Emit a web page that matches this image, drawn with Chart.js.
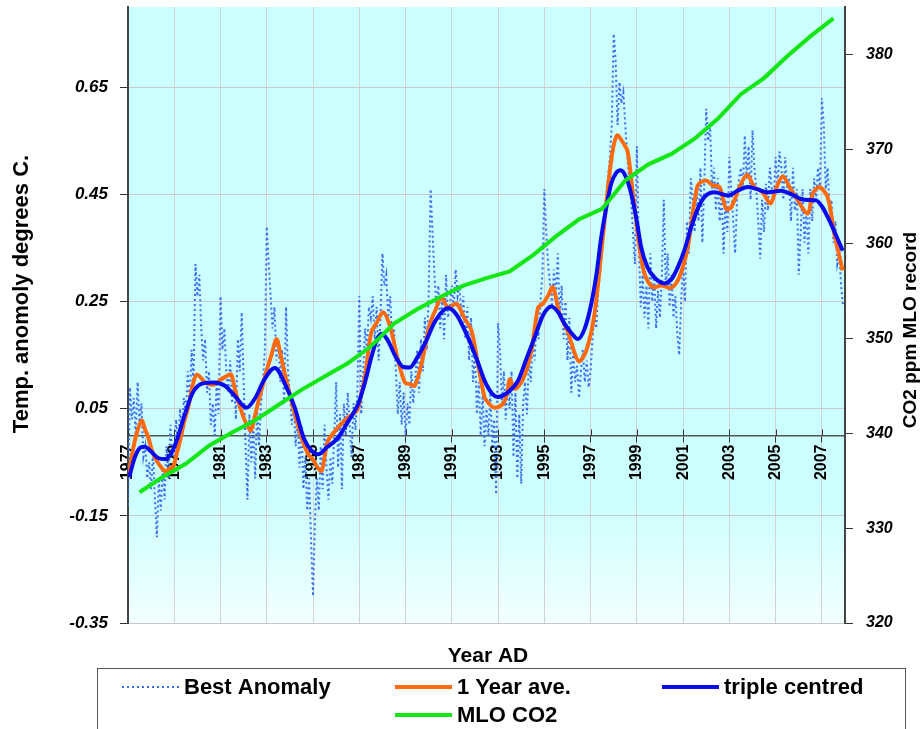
<!DOCTYPE html>
<html>
<head>
<meta charset="utf-8">
<script src="https://cdn.jsdelivr.net/npm/chart.js@4.4.1/dist/chart.umd.min.js"></script>
<style>
  html, body { margin: 0; padding: 0; background: #ffffff; }
  #wrap { width: 922px; height: 729px; position: relative; }
  canvas { display: block; }
</style>
</head>
<body>
<div id="wrap"><canvas id="chart" width="922" height="729"></canvas></div>
<script>
// Monthly temperature anomaly, January 1977 onward (one row per year)
const anomalyStartYear = 1977;
const bestAnomaly = [
  -0.13, 0.09, 0.03, 0.07, 0.00, 0.10, 0.02, 0.06, -0.04, -0.02, -0.08, -0.05,   // 1977
  -0.10, -0.03, -0.12, -0.19, -0.08, -0.14, -0.06, -0.12, -0.02, -0.08, 0.02, -0.04, // 1978
  -0.04, 0.03, -0.03, 0.05, 0.00, 0.07, 0.04, 0.12, 0.06, 0.16, 0.10, 0.32,       // 1979
  0.26, 0.30, 0.20, 0.14, 0.18, 0.08, 0.12, 0.02, 0.06, 0.00, 0.10, 0.04,         // 1980
  0.26, 0.16, 0.20, 0.12, 0.08, 0.14, 0.06, 0.10, 0.03, 0.18, 0.12, 0.23,         // 1981
  0.10, -0.02, -0.12, 0.04, -0.05, 0.02, -0.08, 0.05, -0.02, 0.06, 0.10, 0.16,    // 1982
  0.39, 0.32, 0.26, 0.20, 0.24, 0.14, 0.18, 0.10, 0.16, 0.06, 0.24, 0.12,         // 1983
  0.08, 0.02, 0.06, -0.02, 0.04, -0.06, 0.02, -0.10, -0.04, -0.14, -0.08, -0.20,  // 1984
  -0.30, -0.16, -0.08, -0.14, -0.02, -0.10, 0.02, -0.06, -0.12, -0.04, -0.09, 0.00, // 1985
  0.10, -0.06, 0.04, -0.10, 0.06, 0.00, 0.08, 0.02, -0.04, 0.06, 0.01, 0.08,      // 1986
  0.26, 0.04, 0.12, 0.20, 0.16, 0.24, 0.22, 0.26, 0.18, 0.24, 0.14, 0.22,         // 1987
  0.34, 0.28, 0.30, 0.22, 0.26, 0.18, 0.20, 0.12, 0.04, 0.10, 0.02, 0.08,         // 1988
  0.00, 0.06, 0.02, 0.12, 0.06, 0.10, 0.16, 0.08, 0.18, 0.12, 0.22, 0.16,         // 1989
  0.26, 0.46, 0.38, 0.30, 0.24, 0.28, 0.20, 0.26, 0.18, 0.30, 0.22, 0.24,         // 1990
  0.28, 0.24, 0.31, 0.26, 0.28, 0.22, 0.26, 0.18, 0.24, 0.14, 0.22, 0.10,         // 1991
  0.16, 0.04, 0.10, 0.00, 0.08, -0.02, 0.05, 0.00, 0.08, -0.02, 0.03, -0.11,      // 1992
  0.21, 0.16, 0.06, 0.12, 0.03, 0.10, 0.05, 0.12, -0.04, 0.08, -0.08, 0.04,       // 1993
  -0.09, 0.06, 0.10, 0.04, 0.14, 0.10, 0.18, 0.14, 0.22, 0.18, 0.25, 0.30,        // 1994
  0.46, 0.38, 0.32, 0.28, 0.24, 0.31, 0.26, 0.34, 0.22, 0.28, 0.18, 0.25,         // 1995
  0.14, 0.22, 0.08, 0.16, 0.10, 0.13, 0.07, 0.12, 0.16, 0.10, 0.14, 0.09,         // 1996
  0.12, 0.18, 0.22, 0.20, 0.28, 0.30, 0.36, 0.40, 0.44, 0.48, 0.52, 0.58,         // 1997
  0.75, 0.70, 0.58, 0.66, 0.62, 0.64, 0.58, 0.52, 0.48, 0.44, 0.38, 0.32,         // 1998
  0.54, 0.36, 0.24, 0.30, 0.22, 0.28, 0.20, 0.34, 0.25, 0.30, 0.20, 0.27,         // 1999
  0.22, 0.30, 0.44, 0.28, 0.34, 0.24, 0.30, 0.22, 0.26, 0.19, 0.15, 0.25,         // 2000
  0.32, 0.25, 0.40, 0.34, 0.48, 0.44, 0.38, 0.46, 0.40, 0.50, 0.36, 0.47,         // 2001
  0.61, 0.55, 0.58, 0.46, 0.50, 0.42, 0.48, 0.40, 0.46, 0.34, 0.44, 0.38,         // 2002
  0.52, 0.46, 0.40, 0.34, 0.44, 0.48, 0.50, 0.46, 0.56, 0.48, 0.54, 0.44,         // 2003
  0.57, 0.50, 0.46, 0.40, 0.33, 0.44, 0.38, 0.47, 0.42, 0.50, 0.46, 0.44,         // 2004
  0.52, 0.46, 0.53, 0.50, 0.44, 0.52, 0.46, 0.48, 0.40, 0.50, 0.42, 0.46,         // 2005
  0.30, 0.38, 0.46, 0.36, 0.42, 0.34, 0.46, 0.40, 0.48, 0.44, 0.50, 0.46,         // 2006
  0.63, 0.58, 0.46, 0.50, 0.42, 0.44, 0.36, 0.40, 0.32, 0.34, 0.28, 0.24          // 2007
];

// 1 year average (decimal year, anomaly)
const yearAveYears = [
  1977.05, 1977.2, 1977.37, 1977.59, 1977.75, 1977.88, 1978.05, 1978.24, 1978.45, 1978.6,
  1978.8, 1978.96, 1979.1, 1979.25, 1979.45, 1979.6, 1979.8, 1979.97, 1980.15, 1980.33,
  1980.55, 1980.76, 1981.0, 1981.19, 1981.45, 1981.6, 1981.76, 1982.05, 1982.31, 1982.45,
  1982.63, 1982.8, 1982.99, 1983.2, 1983.42, 1983.6, 1983.78, 1984.14, 1984.5, 1984.79,
  1985.0, 1985.2, 1985.37, 1985.5, 1985.65, 1986.08, 1986.52, 1986.88, 1987.05, 1987.24,
  1987.52, 1987.75, 1988.03, 1988.32, 1988.68, 1988.97, 1989.2, 1989.4, 1989.69, 1990.05,
  1990.3, 1990.55, 1990.84, 1991.2, 1991.56, 1991.85, 1992.13, 1992.42, 1992.6, 1992.85,
  1993.21, 1993.4, 1993.5, 1993.72, 1994.08, 1994.44, 1994.73, 1994.94, 1995.15, 1995.37,
  1995.66, 1996.02, 1996.3, 1996.5, 1996.81, 1997.17, 1997.53, 1997.89, 1998.14, 1998.47,
  1998.61, 1998.83, 1999.12, 1999.33, 1999.69, 2000.05, 2000.49, 2000.84, 2001.2, 2001.63,
  2001.99, 2002.28, 2002.57, 2002.86, 2003.08, 2003.44, 2003.77, 2004.08, 2004.44, 2004.78,
  2005.02, 2005.31, 2005.6, 2005.96, 2006.39, 2006.6, 2006.89, 2007.25, 2007.54, 2007.9
];
const yearAveValues = [
  -0.07, -0.03, 0.003, 0.028, 0.01, -0.004, -0.03, -0.047, -0.06, -0.067,
  -0.062, -0.057, -0.035, -0.01, 0.03, 0.052, 0.095, 0.114, 0.108, 0.099,
  0.095, 0.096, 0.104, 0.109, 0.114, 0.09, 0.065, 0.028, 0.009, 0.03,
  0.062, 0.09, 0.121, 0.15, 0.18, 0.15, 0.115, 0.052, -0.004, -0.035,
  -0.045, -0.06, -0.066, -0.04, -0.01, 0.015, 0.034, 0.046, 0.07, 0.109,
  0.193, 0.21, 0.23, 0.205, 0.14, 0.099, 0.096, 0.093, 0.134, 0.208,
  0.235, 0.258, 0.239, 0.246, 0.218, 0.196, 0.134, 0.071, 0.06, 0.052,
  0.059, 0.08, 0.105, 0.087, 0.105, 0.158, 0.239, 0.246, 0.26, 0.277,
  0.227, 0.193, 0.155, 0.138, 0.158, 0.227, 0.37, 0.513, 0.56, 0.542,
  0.529, 0.451, 0.351, 0.302, 0.277, 0.28, 0.276, 0.296, 0.351, 0.467,
  0.476, 0.467, 0.464, 0.423, 0.426, 0.464, 0.487, 0.464, 0.454, 0.433,
  0.461, 0.484, 0.464, 0.439, 0.414, 0.451, 0.464, 0.445, 0.376, 0.308
];

// Triple centred smoothing (decimal year, anomaly)
const tripleYears = [
  1977.05, 1977.3, 1977.55, 1977.73, 1978.0, 1978.3, 1978.6, 1978.85, 1979.1, 1979.46,
  1979.8, 1980.2, 1980.69, 1981.19, 1981.6, 1982.13, 1982.5, 1982.9, 1983.35, 1983.8,
  1984.21, 1984.6, 1984.93, 1985.22, 1985.6, 1986.08, 1986.5, 1986.95, 1987.25, 1987.52,
  1987.75, 1987.96, 1988.2, 1988.6, 1988.9, 1989.18, 1989.5, 1989.83, 1990.3, 1990.84,
  1991.2, 1991.7, 1992.1, 1992.42, 1992.75, 1993.0, 1993.4, 1993.86, 1994.2, 1994.58,
  1994.95, 1995.3, 1995.6, 1995.88, 1996.2, 1996.45, 1996.75, 1997.03, 1997.25, 1997.46,
  1997.7, 1997.89, 1998.1, 1998.3, 1998.5, 1998.76, 1999.0, 1999.19, 1999.45, 1999.76,
  2000.2, 2000.5, 2000.77, 2001.05, 2001.35, 2001.65, 2001.92, 2002.36, 2002.93, 2003.4,
  2003.8, 2004.2, 2004.66, 2005.24, 2005.7, 2006.24, 2006.75, 2007.0, 2007.25, 2007.6,
  2007.9
];
const tripleValues = [
  -0.078, -0.04, -0.022, -0.021, -0.03, -0.042, -0.044, -0.035, -0.01, 0.04,
  0.08, 0.097, 0.099, 0.093, 0.075, 0.052, 0.07, 0.105, 0.126, 0.095,
  0.052, -0.005, -0.028, -0.035, -0.022, -0.004, 0.025, 0.059, 0.1, 0.146,
  0.178, 0.19, 0.18, 0.145, 0.128, 0.127, 0.145, 0.171, 0.215, 0.238,
  0.226, 0.183, 0.14, 0.102, 0.078, 0.072, 0.08, 0.102, 0.14, 0.183,
  0.225, 0.241, 0.23, 0.208, 0.19, 0.18, 0.2, 0.246, 0.3, 0.37,
  0.43, 0.47, 0.49, 0.495, 0.485, 0.451, 0.4, 0.351, 0.315, 0.295,
  0.284, 0.292, 0.314, 0.345, 0.389, 0.425, 0.445, 0.454, 0.448, 0.458,
  0.464, 0.46, 0.454, 0.457, 0.45, 0.44, 0.439, 0.428, 0.408, 0.375,
  0.345
];

// Mauna Loa annual mean CO2 (ppm), plotted mid-year
const co2Years = [
  1977.5, 1978.5, 1979.5, 1980.5, 1981.5, 1982.5, 1983.5, 1984.5, 1985.5, 1986.5,
  1987.5, 1988.5, 1989.5, 1990.5, 1991.5, 1992.5, 1993.5, 1994.5, 1995.5, 1996.5,
  1997.5, 1998.5, 1999.5, 2000.5, 2001.5, 2002.5, 2003.5, 2004.5, 2005.5, 2006.5,
  2007.5
];
const co2Ppm = [
  333.8, 335.4, 336.8, 338.7, 340.1, 341.4, 343.0, 344.6, 346.0, 347.4,
  349.2, 351.6, 353.1, 354.4, 355.6, 356.4, 357.1, 358.8, 360.8, 362.6,
  363.7, 366.7, 368.4, 369.5, 371.1, 373.2, 375.8, 377.5, 379.8, 381.9,
  383.8
];

// Tick labels
const yearTicks = [1977, 1979, 1981, 1983, 1985, 1987, 1989, 1991, 1993, 1995, 1997, 1999, 2001, 2003, 2005, 2007];
const tempTicks = [-0.35, -0.15, 0.05, 0.25, 0.45, 0.65];
const co2Ticks = [320, 330, 340, 350, 360, 370, 380];

const FONT = "'Liberation Sans', Arial, Helvetica, sans-serif";

const pairs = (xs, ys) => xs.map((x, i) => ({ x: x, y: ys[i] }));
const anomalyPoints = bestAnomaly.map((v, i) => ({ x: anomalyStartYear + i / 12, y: v }));

// keep the value axes from reserving room for their end labels
const noEdgePadding = s => { s.paddingTop = 0; s.paddingBottom = 0; };

function drawUpright(ctx, text, x, y, size) {
  ctx.save();
  ctx.fillStyle = '#000000';
  ctx.font = 'bold ' + size + 'px ' + FONT;
  ctx.textAlign = 'center';
  ctx.textBaseline = 'middle';
  ctx.translate(x, y);
  ctx.rotate(-Math.PI / 2);
  ctx.fillText(text, 0, 0);
  ctx.restore();
}

// Plot background, crossing x ticks, axis titles and legend box
const chartDecor = {
  id: 'chartDecor',
  beforeDraw(chart) {
    const { ctx, chartArea: a } = chart;
    const g = ctx.createLinearGradient(0, a.top, 0, a.bottom);
    g.addColorStop(0, '#ccffff');
    g.addColorStop(0.8, '#ccffff');
    g.addColorStop(1, '#f2ffff');
    ctx.save();
    ctx.fillStyle = g;
    ctx.fillRect(a.left, a.top, a.right - a.left, a.bottom - a.top);
    ctx.restore();
  },
  afterDraw(chart) {
    const { ctx } = chart;
    const xs = chart.scales.x;
    const y0 = chart.scales.y.getPixelForValue(0);
    ctx.save();
    // upper half of the crossing tick marks on the year axis
    ctx.strokeStyle = '#333333';
    ctx.lineWidth = 1;
    xs.ticks.forEach(t => {
      const px = Math.round(xs.getPixelForValue(t.value)) + 0.5;
      ctx.beginPath();
      ctx.moveTo(px, y0 - 6);
      ctx.lineTo(px, y0);
      ctx.stroke();
    });
    ctx.restore();

    // axis titles
    drawUpright(ctx, 'Temp. anomoly degrees C.', 22, 294, 22);
    drawUpright(ctx, 'CO2 ppm MLO record', 911, 330, 19);

    ctx.save();
    ctx.fillStyle = '#000000';
    ctx.textAlign = 'center';
    ctx.textBaseline = 'middle';
    ctx.font = 'bold 21px ' + FONT;
    ctx.fillText('Year AD', 488, 656);

    // legend
    ctx.strokeStyle = '#555555';
    ctx.lineWidth = 1;
    ctx.strokeRect(97.5, 668.5, 808, 80);
    const slots = [
      { ds: 0, x: 122, y: 687 },
      { ds: 1, x: 395, y: 687 },
      { ds: 2, x: 662, y: 687 },
      { ds: 3, x: 395, y: 715 }
    ];
    ctx.font = 'bold 22px ' + FONT;
    ctx.textAlign = 'left';
    slots.forEach(s => {
      const d = chart.data.datasets[s.ds];
      ctx.save();
      ctx.strokeStyle = d.borderColor;
      ctx.lineWidth = d.borderWidth;
      ctx.setLineDash(d.borderDash || []);
      ctx.beginPath();
      ctx.moveTo(s.x, s.y);
      ctx.lineTo(s.x + 57, s.y);
      ctx.stroke();
      ctx.restore();
      ctx.fillText(d.label, s.x + 62, s.y + 1);
    });
    ctx.restore();
  }
};

new Chart(document.getElementById('chart'), {
  type: 'line',
  data: {
    datasets: [
      {
        label: 'Best Anomaly',
        data: anomalyPoints,
        yAxisID: 'y',
        borderColor: '#3a6cf4',
        borderWidth: 2,
        borderDash: [2, 3],
        pointRadius: 0,
        tension: 0,
        order: 4
      },
      {
        label: '1 Year ave.',
        data: pairs(yearAveYears, yearAveValues),
        yAxisID: 'y',
        borderColor: '#ff6a0d',
        borderWidth: 4,
        pointRadius: 0,
        tension: 0.3,
        order: 3
      },
      {
        label: 'triple centred',
        data: pairs(tripleYears, tripleValues),
        yAxisID: 'y',
        borderColor: '#0a0aee',
        borderWidth: 4,
        pointRadius: 0,
        cubicInterpolationMode: 'monotone',
        order: 2
      },
      {
        label: 'MLO CO2',
        data: pairs(co2Years, co2Ppm),
        yAxisID: 'y2',
        borderColor: '#14e614',
        borderWidth: 4,
        pointRadius: 0,
        tension: 0,
        order: 1
      }
    ]
  },
  options: {
    responsive: false,
    animation: false,
    devicePixelRatio: 1,
    parsing: false,
    layout: { padding: { top: 7, bottom: 106, left: 0, right: 0 } },
    plugins: { legend: { display: false }, tooltip: { enabled: false }, title: { display: false } },
    scales: {
      x: {
        type: 'linear',
        min: 1977,
        max: 2008,
        position: { y: 0 },
        afterBuildTicks: s => { s.ticks = yearTicks.map(v => ({ value: v })); },
        ticks: {
          autoSkip: false,
          minRotation: 90,
          maxRotation: 90,
          padding: 3,
          color: '#000000',
          font: { family: FONT, size: 16, weight: 'bold' },
          callback: v => String(v)
        },
        grid: { color: '#d2d2d2', lineWidth: 1, tickColor: '#333333', tickLength: 6 },
        border: { color: '#555555', width: 1.5 }
      },
      y: {
        type: 'linear',
        position: 'left',
        min: -0.35,
        max: 0.8,
        afterBuildTicks: s => { s.ticks = tempTicks.map(v => ({ value: v })); },
        afterFit: s => { s.width = 128; noEdgePadding(s); },
        ticks: {
          padding: 12,
          color: '#000000',
          font: { family: FONT, size: 17, weight: 'bold', style: 'italic' },
          callback: v => v.toFixed(2)
        },
        grid: { color: '#c8c8c8', lineWidth: 1, tickColor: '#333333', tickLength: 8 },
        border: { color: '#444444', width: 2 }
      },
      y2: {
        type: 'linear',
        position: 'right',
        min: 320,
        max: 385,
        afterBuildTicks: s => { s.ticks = co2Ticks.map(v => ({ value: v })); },
        afterFit: s => { s.width = 77; noEdgePadding(s); },
        ticks: {
          padding: 13,
          color: '#000000',
          font: { family: FONT, size: 16, weight: 'bold', style: 'italic' },
          callback: v => String(v)
        },
        grid: { drawOnChartArea: false, tickColor: '#333333', tickLength: 8 },
        border: { color: '#444444', width: 2 }
      }
    }
  },
  plugins: [chartDecor]
});
</script>
</body>
</html>
